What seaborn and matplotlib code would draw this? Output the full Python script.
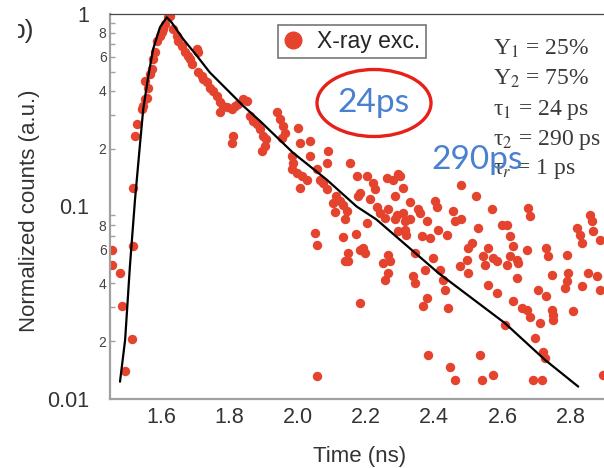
import numpy as np
import pandas as pd
import matplotlib.pyplot as plt
import seaborn as sns
from matplotlib.patches import Ellipse
from matplotlib.lines import Line2D
from matplotlib.ticker import LogLocator, FuncFormatter, FixedLocator
from matplotlib.transforms import Bbox

# Dados (tempo em ns, contagens normalizadas)
time_ns = [
    # subida
    1.519, 1.524, 1.529, 1.543, 1.548, 1.558, 1.553, 1.568, 1.573, 1.577,
    1.582, 1.587, 1.597, 1.602, 1.607, 1.612, 1.621, 1.626, 1.563, 1.553,
    # decaimento (parte alta)
    1.636, 1.646, 1.651, 1.661, 1.670, 1.680, 1.685, 1.690, 1.705, 1.709,
    1.709, 1.719, 1.724, 1.734, 1.743, 1.753, 1.763, 1.773, 1.782, 1.773,
    1.792, 1.807, 1.817, 1.826, 1.841, 1.851, 1.861, 1.870, 1.880, 1.890,
    1.900, 1.909, 1.905, 1.895, 1.812, 1.807, 1.939, 1.948, 1.958, 1.963,
    1.953, 2.002, 2.007, 2.036, 1.983, 1.987, 1.983, 1.997, 2.012, 2.027,
    2.036, 2.056, 2.075, 2.085, 2.090, 2.066, 2.007, 2.085, 2.114, 2.124,
    2.153, 2.173, 2.178,
    # região inferior esquerda / meio
    1.456, 1.456, 1.480, 1.519, 1.485, 1.514, 1.495, 2.051, 2.058, 2.056,
    2.105, 2.134, 2.109, 2.144, 2.139, 2.132, 2.171, 2.148, 2.139, 2.148,
    2.183, 2.183,
    2.202, 2.222, 2.227, 2.261, 2.280, 2.212, 2.232, 2.241, 2.256, 2.285,
    2.290, 2.295, 2.183, 2.266,
    2.192, 2.197, 2.202, 2.266, 2.271, 2.251, 2.256, 2.266, 2.295, 2.285,
    # fundo
    2.383, 2.446, 2.461, 2.534, 2.539, 2.573, 2.695, 2.719, 2.724, 2.690,
    2.715, 2.895, 2.607, 2.710, 2.749,
    # cauda (direita)
    2.300, 2.309, 2.480, 2.524, 2.329, 2.309, 2.353, 2.358, 2.402, 2.407,
    2.456, 2.461, 2.480, 2.568, 2.676, 2.680, 2.314, 2.329, 2.378, 2.529,
    2.598, 2.612, 2.314, 2.319, 2.412, 2.363, 2.388, 2.437, 2.622, 2.510,
    2.500, 2.558, 2.632, 2.671, 2.729, 2.734, 2.788, 2.856, 2.861, 2.817,
    2.827, 2.832, 2.866, 2.885, 2.344, 2.397, 2.495, 2.544, 2.549, 2.573,
    2.583, 2.622, 2.642, 2.646, 2.612, 2.476, 2.500, 2.373, 2.339, 2.344,
    2.417, 2.427, 2.642, 2.744, 2.793, 2.788, 2.783, 2.851, 2.876, 2.832,
    2.885, 2.432, 2.558, 2.583, 2.705, 2.729, 2.378, 2.368, 2.441, 2.632,
    2.656, 2.671, 2.744, 2.749, 2.807, 2.680,
]
counts = [
    0.125, 0.232, 0.267, 0.320, 0.333, 0.368, 0.450, 0.487, 0.517, 0.583,
    0.632, 0.726, 0.771, 0.803, 0.835, 0.887, 0.961, 0.980, 0.415, 0.361,
    0.835, 0.771, 0.726, 0.684, 0.632, 0.607, 0.583, 0.549, 0.657, 0.632,
    0.497, 0.477, 0.459, 0.441, 0.415, 0.399, 0.375, 0.347, 0.333, 0.308,
    0.327, 0.320, 0.333, 0.340, 0.361, 0.353, 0.295, 0.278, 0.267, 0.252,
    0.232, 0.223, 0.206, 0.194, 0.232, 0.215, 0.308, 0.284, 0.262, 0.242,
    0.228, 0.257, 0.215, 0.219, 0.183, 0.169, 0.156, 0.150, 0.144, 0.138,
    0.183, 0.156, 0.133, 0.169, 0.194, 0.138, 0.125, 0.123, 0.113, 0.107,
    0.169, 0.144, 0.113,
    0.0597, 0.0499, 0.0452, 0.0621, 0.0305, 0.0205, 0.0140, 0.0730, 0.0629, 0.0132,
    0.104, 0.102, 0.0938, 0.0945, 0.0856, 0.0695, 0.0721, 0.0574, 0.0519, 0.0519,
    0.0315, 0.0597,
    0.144, 0.133, 0.123, 0.141, 0.138, 0.109, 0.100, 0.0927, 0.0873, 0.113,
    0.0908, 0.147, 0.118, 0.0965,
    0.0610, 0.0574, 0.0822, 0.0562, 0.0519, 0.0509, 0.0417, 0.0452, 0.0744, 0.0856,
    0.0170, 0.0147, 0.0126, 0.0170, 0.0126, 0.0133, 0.0207, 0.0176, 0.0163, 0.0126,
    0.0126, 0.0133, 0.0243, 0.0248, 0.0258,
    0.144, 0.125, 0.130, 0.113, 0.105, 0.0927, 0.0965, 0.0927, 0.107, 0.100,
    0.0945, 0.0838, 0.0856, 0.0965, 0.0985, 0.0890, 0.0838, 0.0856, 0.0838, 0.0775,
    0.0806, 0.0806, 0.0759, 0.0715, 0.0759, 0.0700, 0.0687, 0.0715, 0.0700, 0.0647,
    0.0610, 0.0610, 0.0621, 0.0597, 0.0610, 0.0551, 0.0562, 0.0908, 0.0838, 0.0775,
    0.0715, 0.0647, 0.0744, 0.0673, 0.0574, 0.0541, 0.0530, 0.0551, 0.0499, 0.0541,
    0.0519, 0.0551, 0.0530, 0.0509, 0.0499, 0.0489, 0.0452, 0.0470, 0.0434, 0.0401,
    0.0470, 0.0417, 0.0425, 0.0443, 0.0452, 0.0408, 0.0377, 0.0452, 0.0434, 0.0385,
    0.0370, 0.0370, 0.0393, 0.0355, 0.0370, 0.0341, 0.0334, 0.0303, 0.0297, 0.0321,
    0.0297, 0.0291, 0.0291, 0.0274, 0.0285, 0.0268,
]

# Curva de ajuste (bi-exponencial), lida ponto a ponto
fit_time = [1.480, 1.495, 1.509, 1.524, 1.539, 1.548, 1.563, 1.577, 1.597, 1.617,
            1.631, 1.665, 1.705, 1.743, 1.792, 1.841, 1.890, 1.987, 2.085, 2.173,
            2.231, 2.412, 2.607, 2.724, 2.822]
fit_counts = [0.0123, 0.0203, 0.0489, 0.109, 0.215, 0.320, 0.477, 0.657, 0.853, 0.961,
              0.905, 0.741, 0.607, 0.497, 0.407, 0.333, 0.278, 0.190, 0.138, 0.100,
              0.0856, 0.0452, 0.0248, 0.0160, 0.0116]

fit_lines = ["Y$_1$ = 25%", "Y$_2$ = 75%", "τ$_1$ = 24 ps",
             "τ$_2$ = 290 ps", "τ$_r$ = 1 ps"]

RED = "#e4432e"
GRAY = "#a0a0a0"
W, H = 604, 468


def main():
    sns.set_theme(style="white")
    plt.rcParams['font.family'] = ['Liberation Sans', 'DejaVu Sans']
    plt.rcParams['mathtext.fontset'] = 'stix'

    df = pd.DataFrame({'t': time_ns, 'c': counts})
    df_fit = pd.DataFrame({'t': fit_time, 'c': fit_counts})

    fig = plt.figure(figsize=(W / 100, H / 100), dpi=100)
    ax = fig.add_axes([110 / W, (H - 399) / H, 500 / W, 385 / H])

    sns.scatterplot(data=df, x='t', y='c', color=RED, s=46, linewidth=0,
                    ax=ax, legend=False, zorder=2)
    sns.lineplot(data=df_fit, x='t', y='c', color='black', lw=1.6, sort=False,
                 ax=ax, zorder=3)

    ax.set_yscale('log')
    ax.set_xlim(1.4507, 2.915)
    ax.set_ylim(0.01, 1.0)

    # eixos
    ax.xaxis.set_major_locator(FixedLocator([1.6, 1.8, 2.0, 2.2, 2.4, 2.6, 2.8]))
    ax.xaxis.set_major_formatter(FuncFormatter(lambda v, p: f"{v:.1f}"))
    ax.yaxis.set_major_locator(LogLocator(base=10))
    ax.yaxis.set_major_formatter(FuncFormatter(lambda v, p: f"{v:g}"))
    ax.yaxis.set_minor_locator(LogLocator(base=10, subs=range(2, 10)))

    def minor_fmt(v, p):
        d = int(round(v / 10 ** np.floor(np.log10(v) + 1e-9)))
        return str(d) if d in (2, 4, 6, 8) else ""
    ax.yaxis.set_minor_formatter(FuncFormatter(minor_fmt))

    ax.tick_params(axis='x', which='major', direction='in', length=6, width=1.2,
                   color=GRAY, labelsize=15.5, labelcolor='#333333', pad=6)
    ax.tick_params(axis='y', which='major', direction='in', length=6, width=1.2,
                   color=GRAY, labelsize=15.5, labelcolor='#333333', pad=15)
    ax.tick_params(axis='y', which='minor', direction='in', length=3.5, width=1.0,
                   color=GRAY, labelsize=10, labelcolor='#444444', pad=2.5, left=True)

    for side in ['left', 'bottom']:
        ax.spines[side].set_color(GRAY)
        ax.spines[side].set_linewidth(1.6)
    ax.spines['top'].set_color('#444444')
    ax.spines['top'].set_linewidth(0.9)
    ax.spines['right'].set_visible(False)

    ax.set_xlabel("Time (ns)", fontsize=16, color='#333333')
    ax.set_ylabel("Normalized counts (a.u.)", fontsize=16, color='#333333')
    ax.xaxis.set_label_coords(0.5, -0.122)
    ax.yaxis.set_label_coords(-0.14, 0.49)

    # legenda
    handle = Line2D([], [], marker='o', ls='none', color=RED, markersize=12)
    leg = ax.legend([handle], ["X-ray exc."], loc='upper left',
                    bbox_to_anchor=(278 / W, 1 - 25 / H), bbox_transform=fig.transFigure,
                    fontsize=16.5, frameon=True, fancybox=False, handlelength=0.9,
                    handletextpad=0.6, borderpad=0.22, borderaxespad=0)
    leg.get_frame().set_edgecolor('#555555')
    leg.get_frame().set_linewidth(1.2)

    # parâmetros do ajuste
    baselines = [55, 85, 115, 145, 174]
    for txt, yb in zip(fit_lines, baselines):
        fig.text(493 / W, 1 - yb / H, txt, fontsize=17, family='Liberation Serif',
                 color='#3a3a3a', va='baseline', ha='left')

    # anotações
    ell = Ellipse((374 / W, 1 - 103 / H), 114 / W, 67 / H, transform=fig.transFigure,
                  fill=False, ec='#e8201a', lw=2.4)
    fig.add_artist(ell)
    fig.text(373 / W, 1 - 103 / H, "24ps", fontsize=24, family='Lato',
             color='#4a80d0', ha='center', va='center')
    fig.text(477 / W, 1 - 160 / H, "290ps", fontsize=24, family='Lato',
             color='#4a80d0', ha='center', va='center')

    # rótulo do painel, cortado na borda
    lbl = fig.text(34 / W, 1 - 31 / H, "b)", fontsize=19, color='#333333',
                   ha='right', va='center')
    lbl.set_clip_box(Bbox([[18, 0], [W, H]]))
    lbl.set_clip_on(True)

    fig.savefig("out.png", dpi=100)
    plt.close(fig)


if __name__ == "__main__":
    main()
